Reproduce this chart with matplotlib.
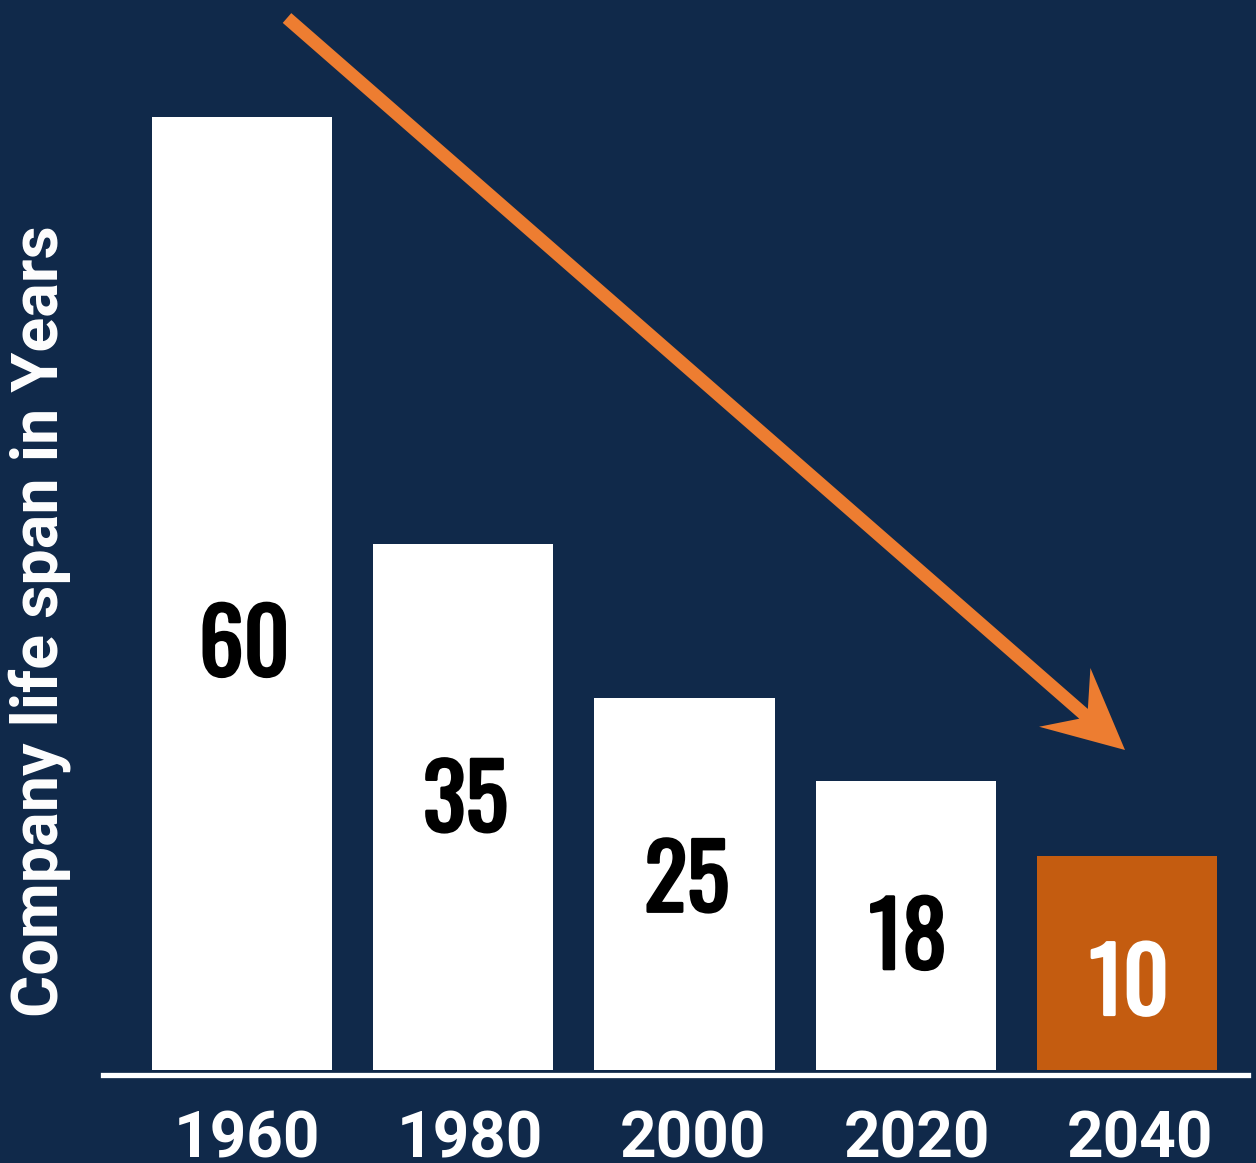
import matplotlib.pyplot as plt
import matplotlib.patheffects as pe
from matplotlib.patches import Polygon
import numpy as np

years = ['1960', '1980', '2000', '2020', '2040']
values = ['60', '35', '25', '18', '10']
# bar heights as drawn in the picture (not strictly to scale with the labels)
heights = [60, 33.1, 23.4, 18.2, 13.5]
label_frac = [0.45, 0.52, 0.52, 0.47, 0.42]

BG = '#10294A'
ORANGE = '#ED7D31'
BAR_ORANGE = '#C45C10'
W, H = 1256, 1163

fig = plt.figure(figsize=(W / 100, H / 100), dpi=100, facecolor=BG)

# axes placed in pixel terms: x 103..1248, bottom at y=1075 (from top)
x_left, x_right, y_bottom = 103, 1248, 1075
ax = fig.add_axes([x_left / W, (H - y_bottom) / H, (x_right - x_left) / W, y_bottom / H])
ax.set_facecolor(BG)

step = 221.25
ax.set_xlim((x_left - 242) / step, (x_right - 242) / step)
y_scale = 953 / 60
ax.set_ylim(-5 / y_scale, 1070 / y_scale)

x = np.arange(len(years))
colors = ['white'] * 4 + [BAR_ORANGE]
ax.bar(x, heights, width=0.814, color=colors, zorder=2)

for i, (h, v, f) in enumerate(zip(heights, values, label_frac)):
    c = 'white' if i == 4 else 'black'
    ax.text(i + 0.01, h * f - 0.45, v, ha='center', va='center',
            fontsize=64, family=['Oswald', 'DejaVu Sans'], color=c, zorder=3,
            path_effects=[pe.withStroke(linewidth=2.2, foreground=c)])

for s in ['top', 'right', 'left']:
    ax.spines[s].set_visible(False)
ax.spines['bottom'].set_color('white')
ax.spines['bottom'].set_linewidth(3.8)
ax.set_xticks([])
ax.set_yticks([])

# year labels under the baseline
for i, yr in enumerate(years):
    xd = 242 + i * step + 5 + 2 * i
    fig.text(xd / W, (H - 1157) / H, yr, ha='center', va='baseline',
             fontsize=46, fontweight='bold', family='Roboto', color='white')

fig.text(40 / W, (H - 621) / H, 'Company life span in Years', rotation=90,
         ha='center', va='center', fontsize=46.5, fontweight='bold',
         family='Roboto', color='white')

# arrow drawn as a polygon in pixel space
start = np.array([287.0, 18.0])
tip = np.array([1125.0, 750.0])
d = tip - start
u = d / np.linalg.norm(d)
n = np.array([-u[1], u[0]])
sw = 6.5
head_len, head_w, notch = 80, 39, 55
neck = tip - u * notch
pts = [start + n * sw, neck + n * sw, tip - u * head_len + n * head_w, tip,
       tip - u * head_len - n * head_w, neck - n * sw, start - n * sw]
pts = [(p[0] / W, (H - p[1]) / H) for p in pts]
fig.patches.append(Polygon(pts, closed=True, transform=fig.transFigure,
                           facecolor=ORANGE, edgecolor='none', zorder=5))

fig.savefig('out.png', dpi=100, facecolor=BG)
